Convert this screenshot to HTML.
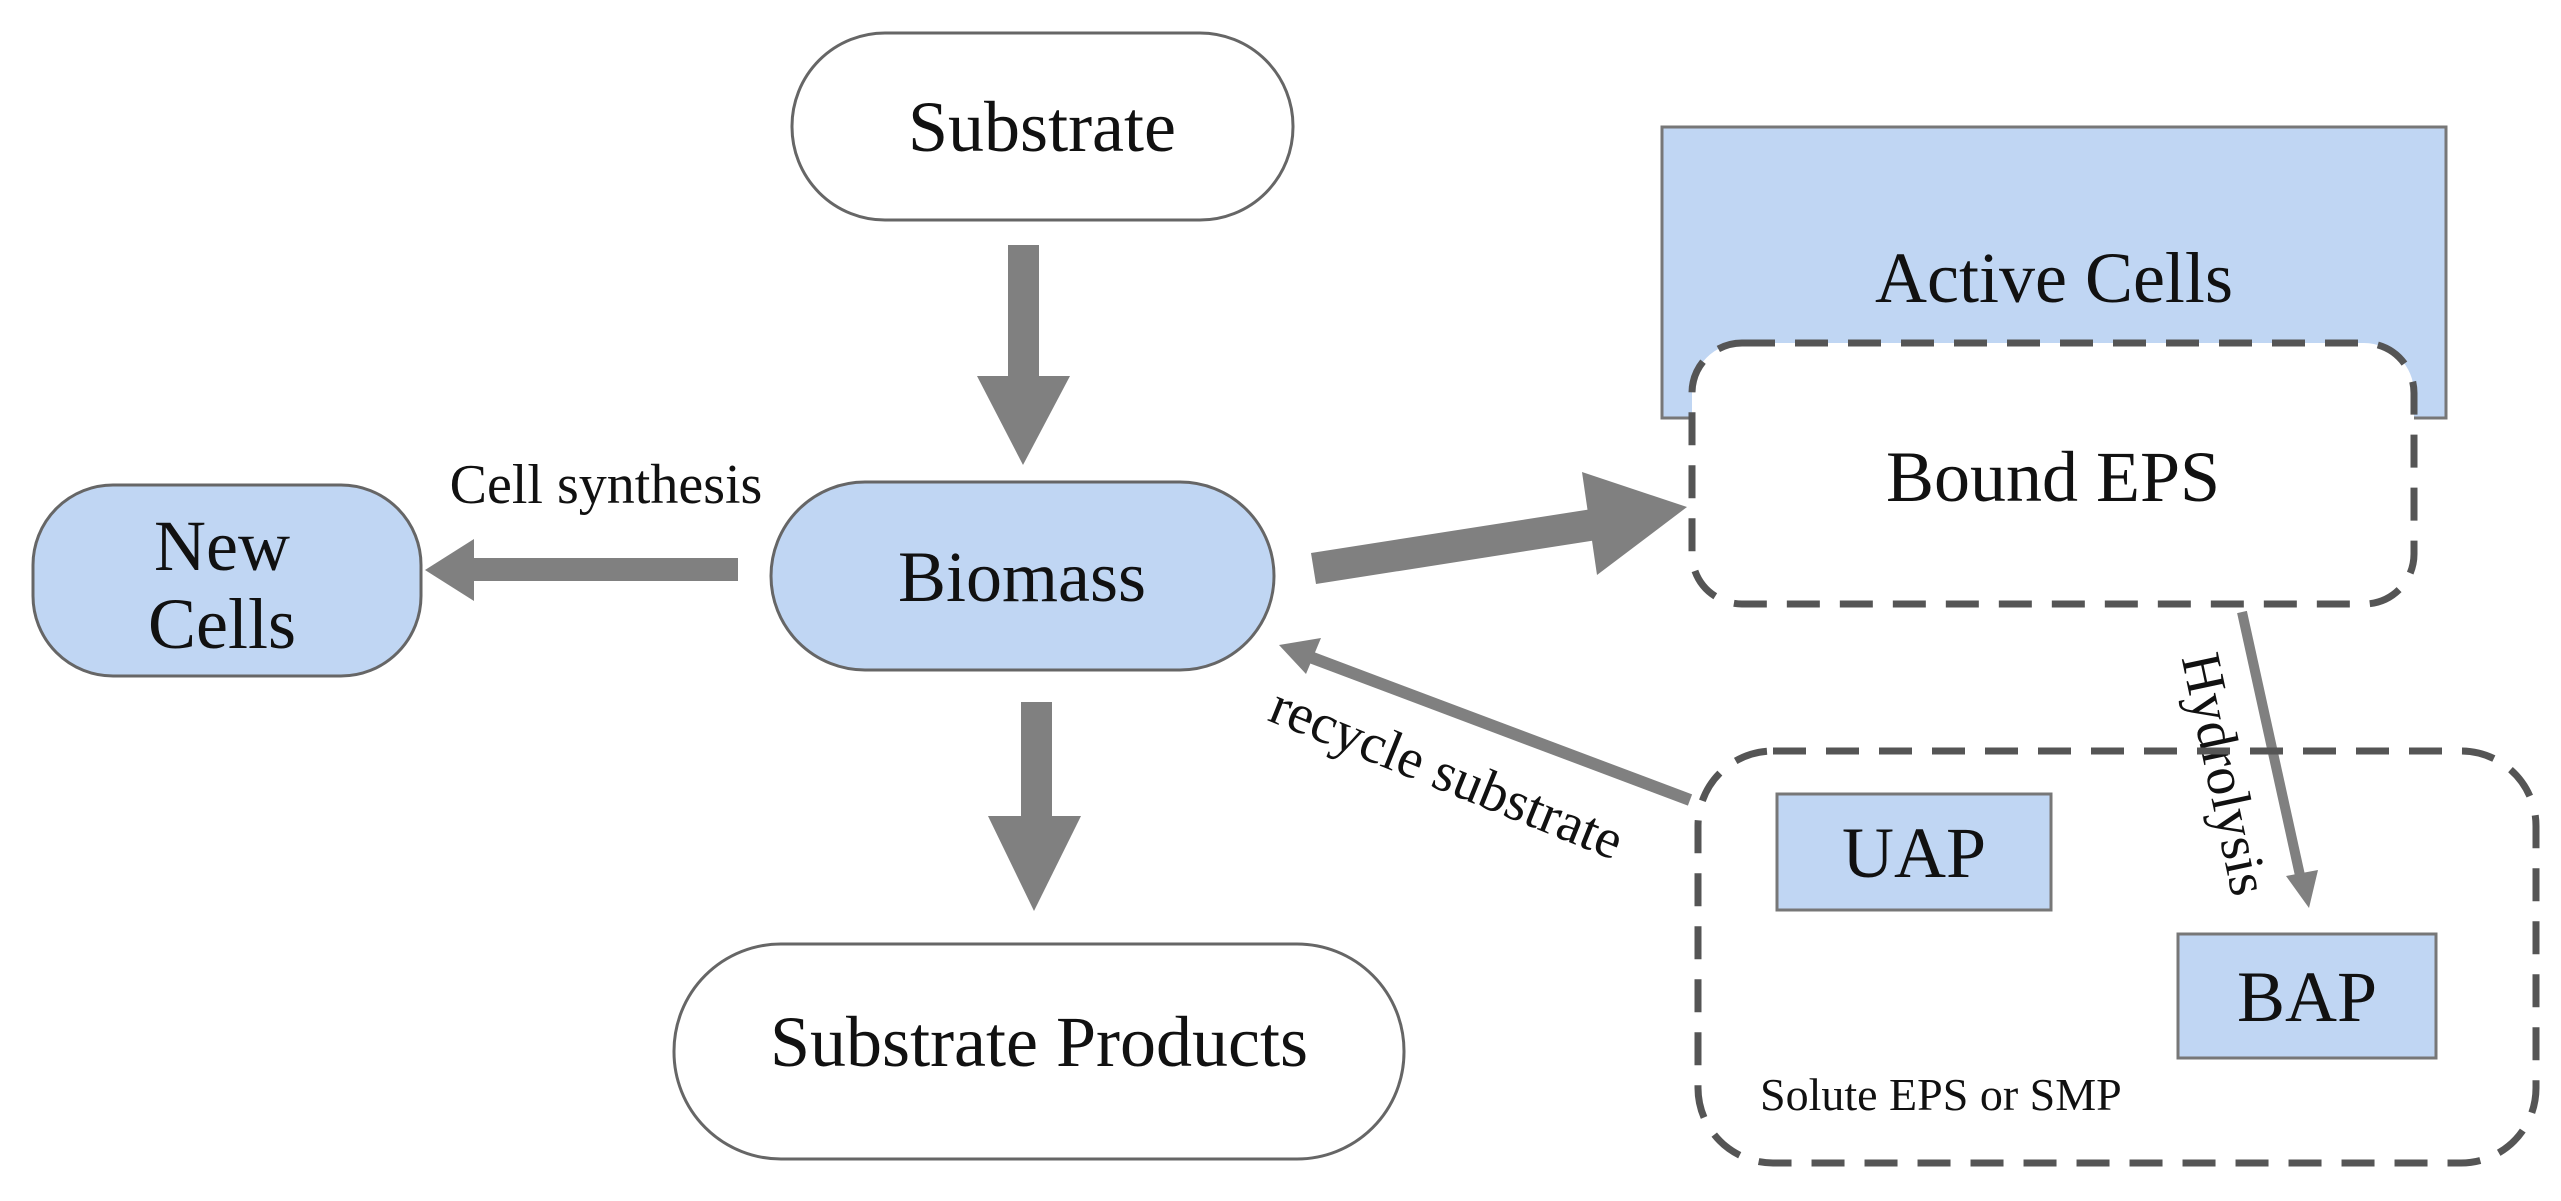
<!DOCTYPE html>
<html><head><meta charset="utf-8"><style>html,body{margin:0;padding:0;background:#fff}svg{display:block}</style></head>
<body>
<svg width="2561" height="1201" viewBox="0 0 2561 1201" xmlns="http://www.w3.org/2000/svg" font-family="Liberation Serif, serif">
<rect width="2561" height="1201" fill="#fff"/>
<rect x="1662" y="127" width="784" height="291" fill="#c0d6f3" stroke="#777" stroke-width="3"/>
<text x="2054" y="302" font-size="72" text-anchor="middle" fill="#111">Active Cells</text>
<rect x="1692" y="343" width="722" height="261" rx="50" fill="#fff" stroke="#555" stroke-width="7" stroke-dasharray="33 20"/>
<text x="2053" y="501" font-size="72" text-anchor="middle" fill="#111">Bound EPS</text>
<rect x="792" y="33" width="501" height="187" rx="93" fill="#fff" stroke="#666" stroke-width="3"/>
<text x="1042" y="151" font-size="72" text-anchor="middle" fill="#111">Substrate</text>
<rect x="771" y="482" width="503" height="188" rx="94" fill="#c0d6f3" stroke="#666" stroke-width="3"/>
<text x="1022" y="601" font-size="72" text-anchor="middle" fill="#111">Biomass</text>
<rect x="33" y="485" width="388" height="191" rx="80" fill="#c0d6f3" stroke="#666" stroke-width="3"/>
<text x="222" y="570" font-size="72" text-anchor="middle" fill="#111">New</text>
<text x="222" y="648" font-size="72" text-anchor="middle" fill="#111">Cells</text>
<rect x="674" y="944" width="730" height="215" rx="107" fill="#fff" stroke="#666" stroke-width="3"/>
<text x="1039" y="1066" font-size="72" text-anchor="middle" fill="#111">Substrate Products</text>
<g fill="#808080">
<rect x="1008" y="245" width="31" height="132"/>
<polygon points="977,376 1070,376 1023,465"/>
<rect x="1021" y="702" width="31" height="115"/>
<polygon points="988,816 1081,816 1034,911"/>
<rect x="474" y="558" width="264" height="23"/>
<polygon points="474,539 474,601 425,570"/>
<polygon points="1311,553 1592,509 1597,540 1316,584"/>
<polygon points="1582,472 1687,507 1597,575"/>
</g>
<text x="606" y="503" font-size="56" text-anchor="middle" fill="#111">Cell synthesis</text>
<line x1="1690" y1="800" x2="1310" y2="657" stroke="#808080" stroke-width="12"/>
<polygon points="1279,645 1321,638 1306,674" fill="#808080"/>
<text transform="translate(1440,790) rotate(22)" font-size="56" text-anchor="middle" fill="#111">recycle substrate</text>
<line x1="2242" y1="612" x2="2301" y2="880" stroke="#808080" stroke-width="10"/>
<polygon points="2286,876 2318,870 2309,908" fill="#808080"/>
<text transform="translate(2207,778) rotate(78)" font-size="56" text-anchor="middle" fill="#111">Hydrolysis</text>
<rect x="1698" y="751" width="838" height="412" rx="75" fill="none" stroke="#555" stroke-width="7" stroke-dasharray="33 20"/>
<rect x="1777" y="794" width="274" height="116" fill="#c0d6f3" stroke="#777" stroke-width="3"/>
<text x="1914" y="877" font-size="72" text-anchor="middle" fill="#111">UAP</text>
<rect x="2178" y="934" width="258" height="124" fill="#c0d6f3" stroke="#777" stroke-width="3"/>
<text x="2307" y="1021" font-size="72" text-anchor="middle" fill="#111">BAP</text>
<text x="1760" y="1110" font-size="46" fill="#111">Solute EPS or SMP</text>
</svg>
</body></html>
